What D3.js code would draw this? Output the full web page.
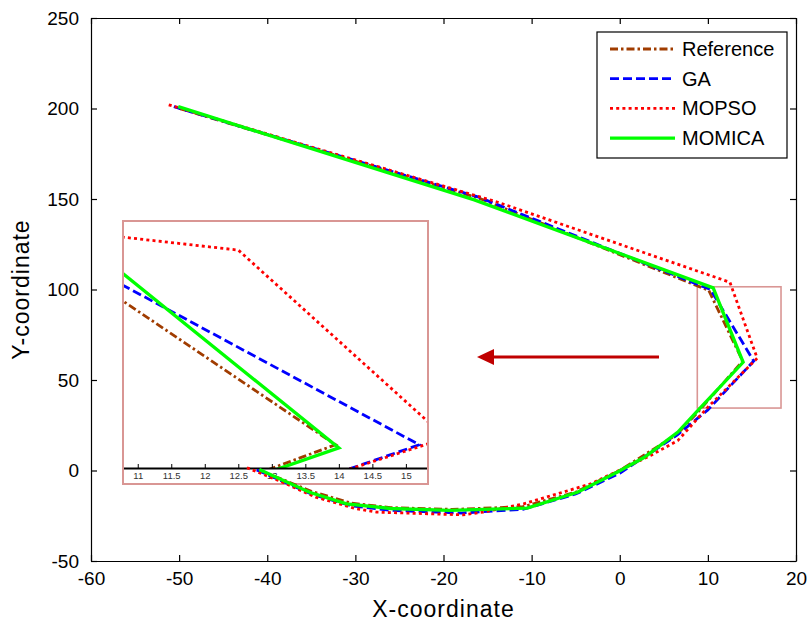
<!DOCTYPE html>
<html>
<head>
<meta charset="utf-8">
<script src="https://cdn.jsdelivr.net/npm/d3@7"></script>
<style>
  body { margin: 0; background: #fff; }
  svg { display: block; font-family: "Liberation Sans", Arial, sans-serif; }
  .axis text { font-size: 19px; fill: #000; }
  .axis path, .axis line { stroke: #000; stroke-width: 1.2; }
  .inset-axis text { font-size: 9.5px; fill: #333; }
  .inset-axis line { stroke: #000; stroke-width: 1; }
  .inset-axis path { stroke: #000; stroke-width: 2; }
</style>
</head>
<body>
<svg id="chart"></svg>
<script>
// series names shown in the legend
const seriesNames = ["Reference", "GA", "MOPSO", "MOMICA"];

// path points: [x, y]
const referencePts = [
  [-41, 0], [-38.5, -4.5], [-35, -11.5], [-30.5, -18], [-26, -20.5], [-19, -21.5],
  [-11, -20], [-5, -12], [0, 0], [6.5, 20], [9, 33], [13.95, 60.5],
  [10.1, 99.5], [-16, 150.5], [-50.3, 200.5]
];
const gaPts = [
  [-41.2, 0.3], [-38.5, -5.5], [-35, -13], [-30.5, -19.5], [-26, -22], [-18, -23.5],
  [-11, -21.5], [-5, -13], [0, -1.5], [6.5, 19.5], [10, 33.5], [15.2, 60.5],
  [10.3, 100], [-16, 151], [-50.6, 201]
];
const mopsoPts = [
  [-42.3, 1.5], [-38.5, -6], [-34.5, -14.7], [-30, -21], [-27.6, -23], [-17.8, -24.5],
  [-15.5, -23], [-10.9, -18.4], [-3.3, -7.4], [3.5, 8.3], [6.6, 16.6], [10, 35],
  [15.6, 62], [12.5, 104], [-14, 148.5], [-51.5, 202.5]
];
const momicaPts = [
  [-40.9, 0.5], [-38.6, -4.6], [-35.2, -12], [-31, -18.4], [-26, -21], [-19.3, -22],
  [-10.5, -20.8], [-4.8, -12], [-0.3, -1], [2.8, 7.3], [6.6, 21.2], [8.9, 33.3],
  [14, 59.8], [10.6, 100.9], [-16.5, 149.5], [-50.1, 201]
];

const xTicks = [-60, -50, -40, -30, -20, -10, 0, 10, 20];
const yTicks = [-50, 0, 50, 100, 150, 200, 250];
const insetTicks = [11, 11.5, 12, 12.5, 13, 13.5, 14, 14.5, 15];

// zoomed window (data units) and the range the inset shows
const zoomBoxX = [8.8, 18.3];
const zoomBoxY = [34.5, 101.5];
const insetX = [10.78, 15.33];
const insetY = [55.3, 110.5];

const styles = [
  { color: "#a03c00", dash: "8,3,2.5,3", width: 2.8 },
  { color: "#0000ff", dash: "9,4", width: 2.8 },
  { color: "#ff0000", dash: "3,3.2", width: 2.8 },
  { color: "#00ff00", dash: null, width: 3.3 },
];

const allSeries = [referencePts, gaPts, mopsoPts, momicaPts];

const width = 808;
const height = 625;
const svg = d3.select("#chart").attr("width", width).attr("height", height);

const x = d3.scaleLinear().domain([-60, 20]).range([91, 796]);
const y = d3.scaleLinear().domain([-50, 250]).range([561, 18]);

// plain hyphen minus, like the original
const plain = (d) => String(d);

// axes, MATLAB style: box with inward ticks
svg.append("g").attr("class", "axis")
  .attr("transform", `translate(0,${y(-50)})`)
  .call(d3.axisBottom(x).tickValues(xTicks).tickSize(-6).tickSizeOuter(0).tickPadding(11).tickFormat(plain));
svg.append("g").attr("class", "axis")
  .attr("transform", `translate(0,${y(250)})`)
  .call(d3.axisTop(x).tickValues(xTicks).tickSize(-6).tickSizeOuter(0).tickFormat(""));
svg.append("g").attr("class", "axis")
  .attr("transform", `translate(${x(-60)},0)`)
  .call(d3.axisLeft(y).tickValues(yTicks).tickSize(-6).tickSizeOuter(0).tickPadding(12).tickFormat(plain));
svg.append("g").attr("class", "axis")
  .attr("transform", `translate(${x(20)},0)`)
  .call(d3.axisRight(y).tickValues(yTicks).tickSize(-6).tickSizeOuter(0).tickFormat(""));

svg.append("text")
  .attr("x", (x(-60) + x(20)) / 2)
  .attr("y", 617)
  .attr("text-anchor", "middle")
  .attr("font-size", 23)
  .attr("letter-spacing", 1)
  .text("X-coordinate");

svg.append("text")
  .attr("transform", `translate(29,${(y(-50) + y(250)) / 2}) rotate(-90)`)
  .attr("text-anchor", "middle")
  .attr("font-size", 23)
  .attr("letter-spacing", 1)
  .text("Y-coordinate");

// inset
const ix = d3.scaleLinear().domain(insetX).range([123, 428]);
const iy = d3.scaleLinear().domain(insetY).range([468, 221]);

const defs = svg.append("defs");
defs.append("clipPath").attr("id", "inset-clip")
  .append("rect")
  .attr("x", ix.range()[0]).attr("y", iy.range()[1])
  .attr("width", ix.range()[1] - ix.range()[0])
  .attr("height", iy.range()[0] - iy.range()[1]);

const inset = svg.append("g");
inset.append("rect")
  .attr("x", 123).attr("y", 221).attr("width", 305).attr("height", 263)
  .attr("fill", "#fff");

const insetLine = d3.line().x((d) => ix(d[0])).y((d) => iy(d[1]));
const insetLines = inset.append("g").attr("clip-path", "url(#inset-clip)");
allSeries.forEach((pts, i) => {
  insetLines.append("path")
    .attr("d", insetLine(pts))
    .attr("fill", "none")
    .attr("stroke", styles[i].color)
    .attr("stroke-width", styles[i].width)
    .attr("stroke-dasharray", styles[i].dash);
});

inset.append("g").attr("class", "inset-axis")
  .attr("transform", `translate(0,${iy(insetY[0])})`)
  .call(d3.axisBottom(ix).tickValues(insetTicks).tickSize(-4).tickSizeOuter(0).tickPadding(4)
    .tickFormat(plain));

inset.append("rect")
  .attr("x", 123).attr("y", 221).attr("width", 305).attr("height", 263)
  .attr("fill", "none")
  .attr("stroke", "#d99694")
  .attr("stroke-width", 2);

// zoom box on the main plot
svg.append("rect")
  .attr("x", x(zoomBoxX[0]))
  .attr("y", y(zoomBoxY[1]))
  .attr("width", x(zoomBoxX[1]) - x(zoomBoxX[0]))
  .attr("height", y(zoomBoxY[0]) - y(zoomBoxY[1]))
  .attr("fill", "none")
  .attr("stroke", "#d99694")
  .attr("stroke-width", 1.6);

// main lines
const line = d3.line().x((d) => x(d[0])).y((d) => y(d[1]));
allSeries.forEach((pts, i) => {
  svg.append("path")
    .attr("d", line(pts))
    .attr("fill", "none")
    .attr("stroke", styles[i].color)
    .attr("stroke-width", styles[i].width)
    .attr("stroke-dasharray", styles[i].dash)
    .attr("stroke-linejoin", "miter");
});

// arrow pointing at the inset
svg.append("line")
  .attr("x1", 659).attr("y1", 357)
  .attr("x2", 490).attr("y2", 357)
  .attr("stroke", "#c00000")
  .attr("stroke-width", 3);
svg.append("path")
  .attr("d", "M477,357 L494,349 L494,365 Z")
  .attr("fill", "#c00000");

// legend
const legend = svg.append("g");
legend.append("rect")
  .attr("x", 597).attr("y", 32).attr("width", 190).attr("height", 126)
  .attr("fill", "#fff").attr("stroke", "#000").attr("stroke-width", 1.2);

seriesNames.forEach((name, i) => {
  const ly = 49 + i * 29.7;
  legend.append("line")
    .attr("x1", 610).attr("x2", 675)
    .attr("y1", ly).attr("y2", ly)
    .attr("stroke", styles[i].color)
    .attr("stroke-width", styles[i].width)
    .attr("stroke-dasharray", styles[i].dash);
  legend.append("text")
    .attr("x", 682).attr("y", ly + 7)
    .attr("font-size", 20)
    .text(name);
});
</script>
</body>
</html>
